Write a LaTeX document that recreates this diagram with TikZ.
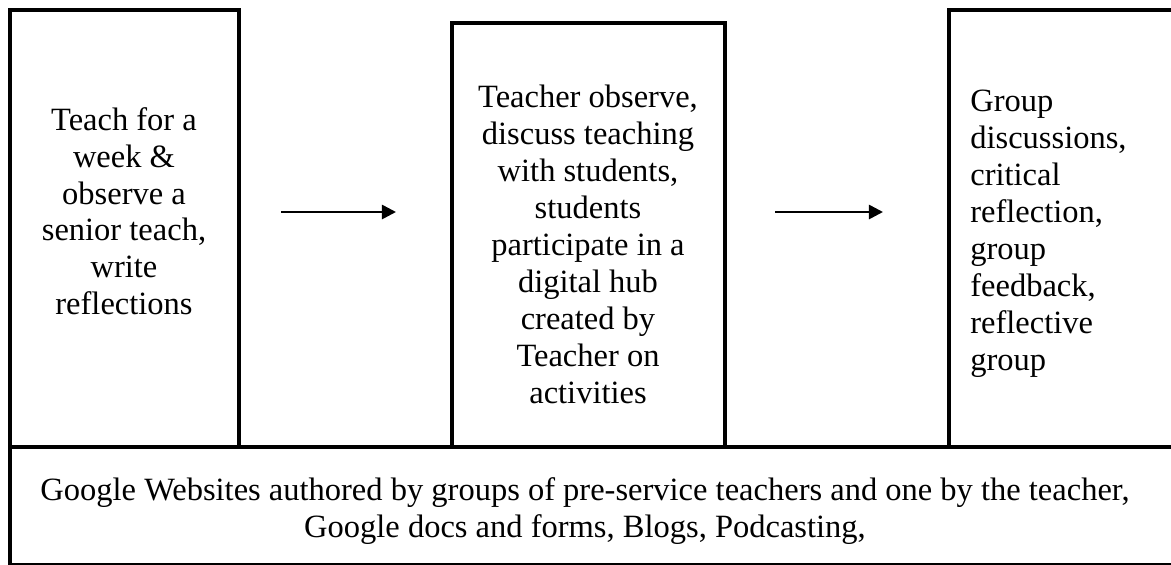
\documentclass[tikz,border=0pt]{standalone}
\usepackage{fontspec}
\setmainfont{Liberation Serif}
\usetikzlibrary{arrows.meta,fit}
\tikzstyle{stage} = [rectangle,draw=black,line width=2.3pt,inner sep=0pt]
\tikzstyle{txt} = [inner sep=0pt,font=\fontsize{18.5}{21}\selectfont]
\tikzstyle{flow} = [line width=1.5pt,-{Triangle[length=8pt,width=8pt]}]

\begin{document}
\begin{tikzpicture}[x=0.02cm,y=-0.02cm]
    \useasboundingbox (0,0) rectangle (1171,565);

    \node (web) [stage, fit={(10,447) (1190,565)}] {};
    \node (box1) [stage, fit={(10,10) (239,447)}] {};
    \node (box2) [stage, fit={(452,23) (725,447)}] {};
    \node (box3) [stage, fit={(949,10) (1190,447)}] {};

    \node (t1) [txt, align=center, anchor=north] at (124,107) {Teach for a\\ week \&\\ observe a\\ senior teach,\\ write\\ reflections};
    \node (t2) [txt, align=center, anchor=north] at (588,85) {Teacher observe,\\ discuss teaching\\ with students,\\ students\\ participate in a\\ digital hub\\ created by\\ Teacher on\\ activities};
    \node (t3) [txt, align=left, anchor=north west] at (970,90) {Group\\ discussions,\\ critical\\ reflection,\\ group\\ feedback,\\ reflective\\ group};
    \node (t4) [txt, align=center, anchor=north] at (585,477) {Google Websites authored by groups of pre-service teachers and one by the teacher,\\ Google docs and forms, Blogs, Podcasting,};

    \coordinate (a1s) at (281,212);
    \coordinate (a1e) at (396,212);
    \coordinate (a2s) at (775,212);
    \coordinate (a2e) at (883,212);
    \draw [flow] (a1s) -- (a1e);
    \draw [flow] (a2s) -- (a2e);
\end{tikzpicture}
\end{document}
